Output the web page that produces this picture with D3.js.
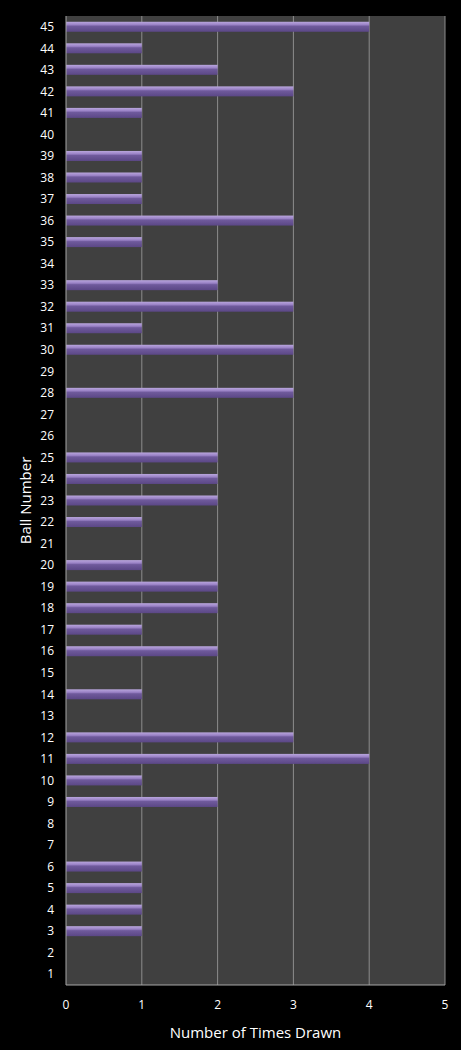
<!DOCTYPE html>
<meta charset=utf-8>
<script src="https://cdn.jsdelivr.net/npm/d3@7"></script>
<style>body{margin:0;background:#000}</style>
<body>
<svg id=chart width=461 height=1050></svg>
<script>
const balls = d3.range(1, 46);
const counts = [0,0,1,1,1,1,0,0,2,1, 4,3,0,1,0,2,1,2,2,1, 0,1,2,2,2,0,0,3,0,3, 1,3,2,0,1,3,1,1,1,0, 1,3,2,1,4];
const xTicks = [0,1,2,3,4,5];

const margin = {top: 16, right: 16, bottom: 65, left: 66};
const svg = d3.select("#chart").style("font-family", "'Open Sans', sans-serif");
const W = 461, H = 1050;
const x = d3.scaleLinear().domain([0, 5]).range([margin.left, W - margin.right]);
const y = d3.scaleBand().domain(balls.slice().reverse()).range([margin.top, H - margin.bottom]);

const defs = svg.append("defs");
const g = defs.append("linearGradient").attr("id", "bar").attr("x1", 0).attr("x2", 0).attr("y1", 0).attr("y2", 1);
[[0, "#b9a6dd"], [0.3, "#9a82c6"], [0.45, "#6f5a9c"], [1, "#5b4786"]].forEach(([o, c]) =>
	g.append("stop").attr("offset", o).attr("stop-color", c));

svg.append("rect").attr("x", x(0)).attr("y", margin.top).attr("width", x(5) - x(0)).attr("height", H - margin.bottom - margin.top).attr("fill", "#404040");

svg.append("g").attr("stroke", "#8c8c8c").selectAll("line").data(xTicks.slice(1)).join("line")
	.attr("x1", d => x(d)).attr("x2", d => x(d)).attr("y1", margin.top).attr("y2", H - margin.bottom);

svg.append("g").selectAll("rect").data(balls.filter((b, i) => counts[i] > 0)).join("rect")
	.attr("x", x(0)).attr("y", d => y(d) + y.bandwidth() / 2 - 5)
	.attr("width", d => x(counts[d - 1]) - x(0)).attr("height", 10)
	.attr("fill", "url(#bar)");

svg.append("g").attr("stroke", "#a6a6a6")
	.call(g => g.append("line").attr("x1", x(0)).attr("x2", x(0)).attr("y1", margin.top).attr("y2", H - margin.bottom))
	.call(g => g.append("line").attr("x1", x(0)).attr("x2", x(5)).attr("y1", H - margin.bottom).attr("y2", H - margin.bottom));

svg.append("g").attr("fill", "#fff").attr("font-size", 12).attr("text-anchor", "end")
	.selectAll("text").data(balls).join("text")
	.attr("x", x(0) - 12).attr("y", d => y(d) + y.bandwidth() / 2).attr("dy", "0.35em").text(d => d);

svg.append("g").attr("fill", "#fff").attr("font-size", 12).attr("text-anchor", "middle")
	.selectAll("text").data(xTicks).join("text")
	.attr("x", d => x(d)).attr("y", H - margin.bottom + 24).text(d => d);

svg.append("text").attr("fill", "#fff").attr("font-size", 15).attr("text-anchor", "middle")
	.attr("x", (x(0) + x(5)) / 2).attr("y", H - 12).text("Number of Times Drawn");
svg.append("text").attr("fill", "#fff").attr("font-size", 15).attr("text-anchor", "middle")
	.attr("transform", `translate(31,${(margin.top + H - margin.bottom) / 2}) rotate(-90)`).text("Ball Number");
</script>
</body>
